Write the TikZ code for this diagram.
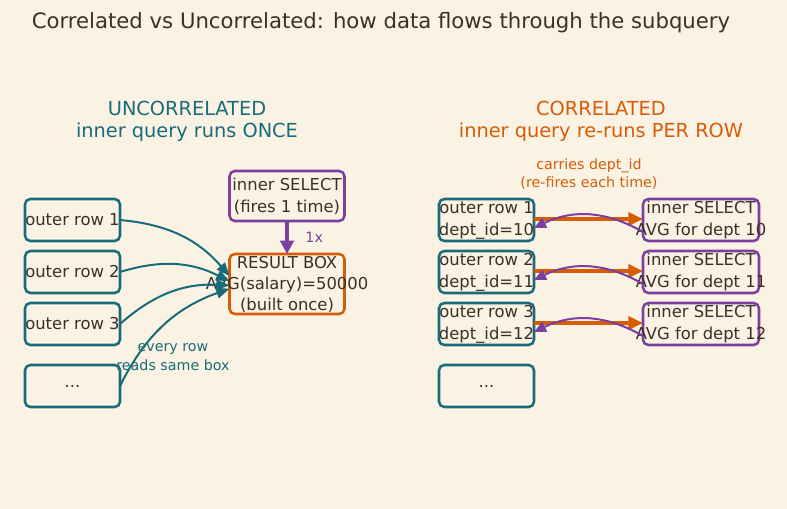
\documentclass[tikz,border=0pt]{standalone}
\usepackage{fontspec}
\setmainfont{DejaVu Sans}
\usetikzlibrary{arrows.meta, positioning}
\definecolor{sqlbg}{RGB}{250,243,228}
\definecolor{sqlink}{RGB}{58,48,40}
\definecolor{sqlteal}{RGB}{26,107,122}
\definecolor{sqlorange}{RGB}{214,92,8}
\definecolor{sqlpurple}{RGB}{123,63,158}

\begin{document}
\begin{tikzpicture}[
    x=0.75pt, y=-0.75pt,
    rowbox/.style={draw=#1, line width=1.9pt, rounded corners=4pt, minimum width=71.25pt, minimum height=31.5pt, inner sep=0pt, outer sep=0pt},
    rowbox/.default=sqlteal,
    boxtext/.style={text=sqlink, align=center, inner sep=0pt, font=\fontsize{12.3}{16.5}\selectfont},
    head/.style={text=#1, align=center, font=\fontsize{14.5}{16.5}\selectfont},
    note/.style={text=#1, align=center, font=\fontsize{10.7}{14.2}\selectfont},
    feed/.style={-{Triangle[length=10pt,width=8pt]}, draw=sqlteal, line width=1.5pt},
    pass/.style={-{Triangle[length=11pt,width=10pt]}, draw=sqlorange, line width=2.3pt},
    back/.style={-{Triangle[length=9pt,width=8pt]}, draw=sqlpurple, line width=1.5pt}
]

% page
\fill[sqlbg] (0,0) rectangle (787,509);
\useasboundingbox (0,0) rectangle (787,509);

\node[text=sqlink, font=\fontsize{15.9}{18}\selectfont] (title) at (381,23) {Correlated vs Uncorrelated: how data flows through the subquery};

% uncorrelated side
\node[head=sqlteal] (uhead) at (187,121) {UNCORRELATED\\inner query runs ONCE};

\node[rowbox] (u1) at (72.5,220) {};
\node[rowbox, below=7.5pt of u1] (u2) {};
\node[rowbox, below=7.5pt of u2] (u3) {};
\node[rowbox, below=15pt of u3] (u4) {};
\node[boxtext] at (u1) {outer row 1};
\node[boxtext] at (u2) {outer row 2};
\node[boxtext] at (u3) {outer row 3};
\node[boxtext] at (u4) {...};

\node[rowbox=sqlpurple, minimum width=86.25pt, minimum height=37.5pt] (once) at (287,196) {};
\node[boxtext] at (once) {inner SELECT\\(fires 1 time)};
\node[rowbox=sqlorange, minimum width=86.25pt, minimum height=45pt] (res) at (287,284) {};
\node[boxtext, font=\fontsize{12.3}{15.75}\selectfont] at (res) {RESULT BOX\\AVG(salary)=50000\\(built once)};

\draw[-{Triangle[length=10pt,width=10pt]}, draw=sqlpurple, line width=3pt] (once) -- node[note=sqlpurple, right=9pt] {1x} (res);

\draw[feed] (u1.east) to[bend left=22] ([yshift=6pt]res.west);
\draw[feed] (u2.east) to[bend left=22] ([yshift=2pt]res.west);
\draw[feed] (u3.east) to[bend left=22] ([yshift=-1pt]res.west);
\draw[feed] (u4.east) to[bend left=22] ([yshift=-3.5pt]res.west);

\node[note=sqlteal] (same) at (173,357) {every row\\reads same box};

% correlated side
\node[head=sqlorange] (chead) at (601,121) {CORRELATED\\inner query re-runs PER ROW};
\node[note=sqlorange] (carry) at (589,174) {carries dept\_id\\(re-fires each time)};

\node[rowbox] (c1) at (486.5,220) {};
\node[rowbox, below=7.5pt of c1] (c2) {};
\node[rowbox, below=7.5pt of c2] (c3) {};
\node[rowbox, below=15pt of c3] (c4) {};
\node[boxtext] at (c1) {outer row 1\\dept\_id=10};
\node[boxtext] at (c2) {outer row 2\\dept\_id=11};
\node[boxtext] at (c3) {outer row 3\\dept\_id=12};
\node[boxtext] at (c4) {...};

\node[rowbox=sqlpurple, minimum width=87pt] (s1) at (701,220) {};
\node[rowbox=sqlpurple, minimum width=87pt, below=7.5pt of s1] (s2) {};
\node[rowbox=sqlpurple, minimum width=87pt, below=7.5pt of s2] (s3) {};
\node[boxtext] at (s1) {inner SELECT\\AVG for dept 10};
\node[boxtext] at (s2) {inner SELECT\\AVG for dept 11};
\node[boxtext] at (s3) {inner SELECT\\AVG for dept 12};

\foreach \i in {1,2,3} {
  \draw[pass] ([yshift=0.75pt]c\i.east) -- ([yshift=0.75pt]s\i.west);
  \draw[back] ([yshift=-9pt]s\i.west) to[bend right=28] ([yshift=-6pt]c\i.east);
}

\end{tikzpicture}
\end{document}
